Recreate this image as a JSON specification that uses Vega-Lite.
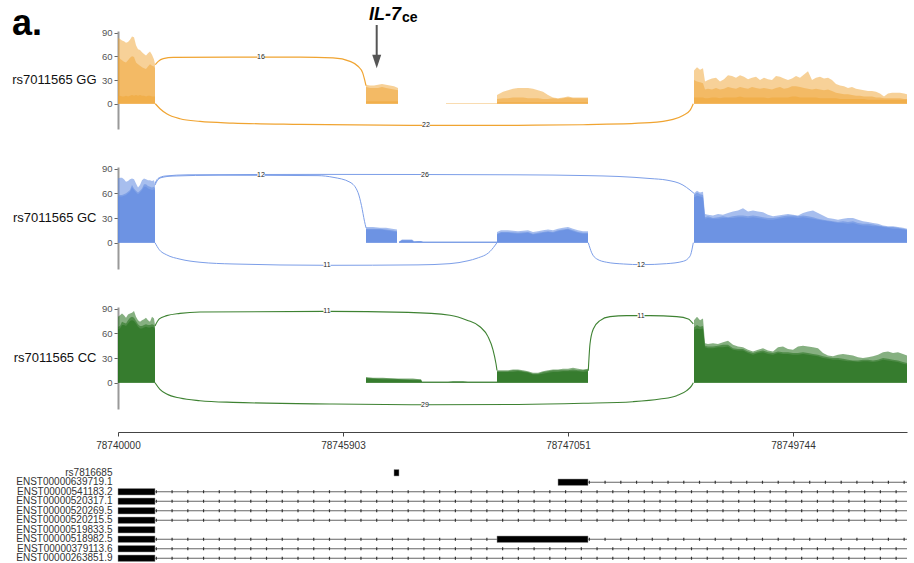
{
 "$schema": "https://vega.github.io/schema/vega-lite/v6.json",
 "padding": {"left": 11, "top": 5, "right": 7, "bottom": 2},
 "config": {"font": "Liberation Sans", "view": {"stroke": null}, "axis": {"grid": false}},
 "datasets": {
  "cov": [
   {"g":"GG","k":1,"x":0,"a":83,"b":60,"c":10},{"g":"GG","k":1,"x":2,"a":82,"b":57,"c":10},{"g":"GG","k":1,"x":4,"a":80,"b":55,"c":9},{"g":"GG","k":1,"x":6,"a":79,"b":53,"c":9},{"g":"GG","k":1,"x":8,"a":77,"b":52,"c":10},{"g":"GG","k":1,"x":10,"a":78,"b":55,"c":9},{"g":"GG","k":1,"x":12,"a":81,"b":58,"c":10},{"g":"GG","k":1,"x":14,"a":85,"b":60,"c":11},{"g":"GG","k":1,"x":16,"a":84,"b":59,"c":10},{"g":"GG","k":1,"x":18,"a":74,"b":52,"c":11},{"g":"GG","k":1,"x":20,"a":69,"b":50,"c":10},{"g":"GG","k":1,"x":22,"a":68,"b":48,"c":11},{"g":"GG","k":1,"x":24,"a":65,"b":46,"c":10},{"g":"GG","k":1,"x":26,"a":63,"b":45,"c":10},{"g":"GG","k":1,"x":28,"a":61,"b":44,"c":9},{"g":"GG","k":1,"x":30,"a":64,"b":47,"c":10},{"g":"GG","k":1,"x":32,"a":66,"b":50,"c":10},{"g":"GG","k":1,"x":34,"a":62,"b":48,"c":9},{"g":"GG","k":1,"x":36,"a":56,"b":47,"c":9},{"g":"GG","k":1,"x":37,"a":50,"b":45,"c":9},
   {"g":"GG","k":2,"x":248,"a":24,"b":21,"c":3},{"g":"GG","k":2,"x":252,"a":23,"b":20,"c":3},{"g":"GG","k":2,"x":256,"a":23,"b":20,"c":3},{"g":"GG","k":2,"x":260,"a":24,"b":20,"c":3},{"g":"GG","k":2,"x":264,"a":25,"b":21,"c":3},{"g":"GG","k":2,"x":268,"a":24,"b":20,"c":3},{"g":"GG","k":2,"x":272,"a":23,"b":19,"c":3},{"g":"GG","k":2,"x":276,"a":22,"b":18,"c":3},{"g":"GG","k":2,"x":280,"a":20,"b":17,"c":3},
   {"g":"GG","k":3,"x":328,"a":1,"b":0,"c":0},{"g":"GG","k":3,"x":379,"a":1,"b":0,"c":0},
   {"g":"GG","k":4,"x":379,"a":11,"b":6,"c":2},{"g":"GG","k":4,"x":385,"a":15,"b":7,"c":2},{"g":"GG","k":4,"x":390,"a":17,"b":7,"c":2},{"g":"GG","k":4,"x":395,"a":19,"b":8,"c":2},{"g":"GG","k":4,"x":400,"a":20,"b":8,"c":2},{"g":"GG","k":4,"x":405,"a":20,"b":8,"c":2},{"g":"GG","k":4,"x":410,"a":20,"b":7,"c":2},{"g":"GG","k":4,"x":415,"a":19,"b":7,"c":2},{"g":"GG","k":4,"x":420,"a":17,"b":7,"c":2},{"g":"GG","k":4,"x":425,"a":15,"b":6,"c":2},{"g":"GG","k":4,"x":430,"a":11,"b":6,"c":2},{"g":"GG","k":4,"x":435,"a":8,"b":7,"c":2},{"g":"GG","k":4,"x":440,"a":7,"b":6,"c":2},{"g":"GG","k":4,"x":445,"a":8,"b":7,"c":2},{"g":"GG","k":4,"x":450,"a":9,"b":8,"c":2},{"g":"GG","k":4,"x":455,"a":8,"b":7,"c":2},{"g":"GG","k":4,"x":460,"a":8,"b":7,"c":2},{"g":"GG","k":4,"x":465,"a":8,"b":7,"c":2},{"g":"GG","k":4,"x":470,"a":8,"b":7,"c":2},
   {"g":"GG","k":5,"x":576,"a":42,"b":30,"c":8},{"g":"GG","k":5,"x":579,"a":46,"b":28,"c":8},{"g":"GG","k":5,"x":582,"a":43,"b":27,"c":8},{"g":"GG","k":5,"x":585,"a":45,"b":26,"c":8},{"g":"GG","k":5,"x":587,"a":28,"b":18,"c":7},{"g":"GG","k":5,"x":590,"a":30,"b":19,"c":7},{"g":"GG","k":5,"x":594,"a":32,"b":18,"c":8},{"g":"GG","k":5,"x":598,"a":33,"b":20,"c":8},{"g":"GG","k":5,"x":602,"a":28,"b":18,"c":7},{"g":"GG","k":5,"x":606,"a":31,"b":19,"c":8},{"g":"GG","k":5,"x":610,"a":36,"b":21,"c":8},{"g":"GG","k":5,"x":614,"a":35,"b":20,"c":8},{"g":"GG","k":5,"x":618,"a":33,"b":19,"c":8},{"g":"GG","k":5,"x":622,"a":36,"b":21,"c":9},{"g":"GG","k":5,"x":626,"a":34,"b":20,"c":8},{"g":"GG","k":5,"x":630,"a":31,"b":19,"c":8},{"g":"GG","k":5,"x":634,"a":33,"b":21,"c":8},{"g":"GG","k":5,"x":638,"a":34,"b":20,"c":8},{"g":"GG","k":5,"x":642,"a":30,"b":19,"c":8},{"g":"GG","k":5,"x":646,"a":33,"b":20,"c":8},{"g":"GG","k":5,"x":650,"a":31,"b":19,"c":7},{"g":"GG","k":5,"x":654,"a":30,"b":18,"c":8},{"g":"GG","k":5,"x":658,"a":35,"b":20,"c":8},{"g":"GG","k":5,"x":662,"a":34,"b":21,"c":8},{"g":"GG","k":5,"x":666,"a":32,"b":19,"c":8},{"g":"GG","k":5,"x":670,"a":30,"b":20,"c":8},{"g":"GG","k":5,"x":674,"a":32,"b":22,"c":9},{"g":"GG","k":5,"x":678,"a":35,"b":22,"c":9},{"g":"GG","k":5,"x":682,"a":33,"b":21,"c":8},{"g":"GG","k":5,"x":686,"a":37,"b":20,"c":8},{"g":"GG","k":5,"x":690,"a":41,"b":19,"c":8},{"g":"GG","k":5,"x":694,"a":30,"b":18,"c":8},{"g":"GG","k":5,"x":698,"a":33,"b":19,"c":8},{"g":"GG","k":5,"x":702,"a":34,"b":18,"c":7},{"g":"GG","k":5,"x":706,"a":32,"b":17,"c":7},{"g":"GG","k":5,"x":710,"a":33,"b":18,"c":7},{"g":"GG","k":5,"x":714,"a":30,"b":16,"c":7},{"g":"GG","k":5,"x":718,"a":25,"b":14,"c":7},{"g":"GG","k":5,"x":722,"a":23,"b":13,"c":6},{"g":"GG","k":5,"x":726,"a":22,"b":12,"c":6},{"g":"GG","k":5,"x":730,"a":20,"b":12,"c":6},{"g":"GG","k":5,"x":734,"a":21,"b":11,"c":6},{"g":"GG","k":5,"x":738,"a":19,"b":10,"c":6},{"g":"GG","k":5,"x":742,"a":18,"b":10,"c":6},{"g":"GG","k":5,"x":746,"a":17,"b":9,"c":6},{"g":"GG","k":5,"x":750,"a":16,"b":9,"c":5},{"g":"GG","k":5,"x":754,"a":16,"b":9,"c":5},{"g":"GG","k":5,"x":758,"a":15,"b":8,"c":5},{"g":"GG","k":5,"x":762,"a":13,"b":8,"c":5},{"g":"GG","k":5,"x":766,"a":9,"b":7,"c":5},{"g":"GG","k":5,"x":770,"a":13,"b":7,"c":5},{"g":"GG","k":5,"x":774,"a":14,"b":7,"c":5},{"g":"GG","k":5,"x":778,"a":14,"b":7,"c":5},{"g":"GG","k":5,"x":782,"a":14,"b":7,"c":5},{"g":"GG","k":5,"x":786,"a":13,"b":6,"c":5},{"g":"GG","k":5,"x":789,"a":12,"b":6,"c":5},

   {"g":"GC","k":1,"x":0,"a":78,"b":57,"c":55},{"g":"GC","k":1,"x":2,"a":79,"b":58,"c":56},{"g":"GC","k":1,"x":4,"a":79,"b":58,"c":56},{"g":"GC","k":1,"x":6,"a":77,"b":59,"c":57},{"g":"GC","k":1,"x":8,"a":74,"b":60,"c":58},{"g":"GC","k":1,"x":10,"a":75,"b":62,"c":60},{"g":"GC","k":1,"x":12,"a":77,"b":64,"c":62},{"g":"GC","k":1,"x":14,"a":78,"b":70,"c":67},{"g":"GC","k":1,"x":16,"a":77,"b":66,"c":64},{"g":"GC","k":1,"x":18,"a":72,"b":63,"c":61},{"g":"GC","k":1,"x":20,"a":67,"b":61,"c":59},{"g":"GC","k":1,"x":22,"a":70,"b":63,"c":61},{"g":"GC","k":1,"x":24,"a":76,"b":66,"c":64},{"g":"GC","k":1,"x":26,"a":78,"b":71,"c":68},{"g":"GC","k":1,"x":28,"a":77,"b":71,"c":68},{"g":"GC","k":1,"x":30,"a":76,"b":69,"c":66},{"g":"GC","k":1,"x":32,"a":76,"b":68,"c":65},{"g":"GC","k":1,"x":34,"a":75,"b":67,"c":64},{"g":"GC","k":1,"x":36,"a":76,"b":68,"c":65},{"g":"GC","k":1,"x":37,"a":70,"b":66,"c":63},
   {"g":"GC","k":2,"x":248,"a":19,"b":17,"c":16},{"g":"GC","k":2,"x":255,"a":19,"b":17,"c":16},{"g":"GC","k":2,"x":262,"a":18,"b":17,"c":16},{"g":"GC","k":2,"x":268,"a":18,"b":16,"c":15},{"g":"GC","k":2,"x":274,"a":17,"b":15,"c":14},{"g":"GC","k":2,"x":279,"a":16,"b":14,"c":13},
   {"g":"GC","k":3,"x":281,"a":1,"b":1,"c":1},{"g":"GC","k":3,"x":284,"a":4,"b":3,"c":3},{"g":"GC","k":3,"x":294,"a":4,"b":3,"c":3},{"g":"GC","k":3,"x":296,"a":2,"b":1,"c":1},{"g":"GC","k":3,"x":300,"a":2,"b":2,"c":1},{"g":"GC","k":3,"x":303,"a":2,"b":2,"c":1},{"g":"GC","k":3,"x":305,"a":1,"b":1,"c":1},{"g":"GC","k":3,"x":379,"a":1,"b":1,"c":1},
   {"g":"GC","k":4,"x":379,"a":13,"b":11,"c":10},{"g":"GC","k":4,"x":383,"a":15,"b":13,"c":12},{"g":"GC","k":4,"x":390,"a":15,"b":13,"c":12},{"g":"GC","k":4,"x":400,"a":14,"b":12,"c":11},{"g":"GC","k":4,"x":410,"a":15,"b":13,"c":12},{"g":"GC","k":4,"x":415,"a":13,"b":11,"c":10},{"g":"GC","k":4,"x":420,"a":14,"b":12,"c":11},{"g":"GC","k":4,"x":425,"a":15,"b":13,"c":12},{"g":"GC","k":4,"x":430,"a":16,"b":14,"c":13},{"g":"GC","k":4,"x":435,"a":15,"b":13,"c":12},{"g":"GC","k":4,"x":440,"a":17,"b":15,"c":14},{"g":"GC","k":4,"x":445,"a":18,"b":16,"c":15},{"g":"GC","k":4,"x":450,"a":19,"b":17,"c":16},{"g":"GC","k":4,"x":455,"a":17,"b":15,"c":14},{"g":"GC","k":4,"x":460,"a":15,"b":13,"c":12},{"g":"GC","k":4,"x":465,"a":14,"b":12,"c":11},{"g":"GC","k":4,"x":470,"a":14,"b":12,"c":11},
   {"g":"GC","k":5,"x":576,"a":60,"b":58,"c":55},{"g":"GC","k":5,"x":579,"a":63,"b":61,"c":57},{"g":"GC","k":5,"x":582,"a":61,"b":59,"c":56},{"g":"GC","k":5,"x":585,"a":62,"b":58,"c":55},{"g":"GC","k":5,"x":587,"a":35,"b":31,"c":29},{"g":"GC","k":5,"x":590,"a":34,"b":32,"c":30},{"g":"GC","k":5,"x":595,"a":33,"b":30,"c":29},{"g":"GC","k":5,"x":600,"a":35,"b":31,"c":29},{"g":"GC","k":5,"x":605,"a":34,"b":32,"c":30},{"g":"GC","k":5,"x":610,"a":36,"b":31,"c":30},{"g":"GC","k":5,"x":615,"a":38,"b":32,"c":30},{"g":"GC","k":5,"x":620,"a":39,"b":33,"c":31},{"g":"GC","k":5,"x":625,"a":42,"b":33,"c":31},{"g":"GC","k":5,"x":630,"a":38,"b":32,"c":30},{"g":"GC","k":5,"x":635,"a":39,"b":33,"c":31},{"g":"GC","k":5,"x":640,"a":38,"b":32,"c":30},{"g":"GC","k":5,"x":645,"a":37,"b":31,"c":29},{"g":"GC","k":5,"x":650,"a":34,"b":30,"c":28},{"g":"GC","k":5,"x":655,"a":32,"b":30,"c":28},{"g":"GC","k":5,"x":660,"a":33,"b":31,"c":29},{"g":"GC","k":5,"x":665,"a":34,"b":32,"c":30},{"g":"GC","k":5,"x":670,"a":35,"b":33,"c":31},{"g":"GC","k":5,"x":675,"a":34,"b":33,"c":31},{"g":"GC","k":5,"x":680,"a":33,"b":32,"c":30},{"g":"GC","k":5,"x":685,"a":36,"b":33,"c":31},{"g":"GC","k":5,"x":690,"a":38,"b":32,"c":30},{"g":"GC","k":5,"x":695,"a":39,"b":31,"c":29},{"g":"GC","k":5,"x":700,"a":36,"b":29,"c":28},{"g":"GC","k":5,"x":705,"a":33,"b":28,"c":27},{"g":"GC","k":5,"x":710,"a":30,"b":27,"c":26},{"g":"GC","k":5,"x":715,"a":29,"b":26,"c":25},{"g":"GC","k":5,"x":720,"a":28,"b":25,"c":24},{"g":"GC","k":5,"x":725,"a":29,"b":26,"c":24},{"g":"GC","k":5,"x":730,"a":30,"b":25,"c":23},{"g":"GC","k":5,"x":735,"a":30,"b":26,"c":24},{"g":"GC","k":5,"x":740,"a":28,"b":24,"c":22},{"g":"GC","k":5,"x":745,"a":26,"b":23,"c":21},{"g":"GC","k":5,"x":750,"a":25,"b":23,"c":21},{"g":"GC","k":5,"x":755,"a":24,"b":22,"c":20},{"g":"GC","k":5,"x":760,"a":23,"b":21,"c":20},{"g":"GC","k":5,"x":765,"a":21,"b":20,"c":19},{"g":"GC","k":5,"x":770,"a":20,"b":19,"c":18},{"g":"GC","k":5,"x":775,"a":20,"b":19,"c":17},{"g":"GC","k":5,"x":780,"a":19,"b":18,"c":17},{"g":"GC","k":5,"x":785,"a":18,"b":17,"c":16},{"g":"GC","k":5,"x":789,"a":17,"b":16,"c":15},

   {"g":"CC","k":1,"x":0,"a":80,"b":68,"c":65},{"g":"CC","k":1,"x":2,"a":82,"b":69,"c":66},{"g":"CC","k":1,"x":4,"a":84,"b":74,"c":70},{"g":"CC","k":1,"x":6,"a":82,"b":73,"c":70},{"g":"CC","k":1,"x":8,"a":79,"b":72,"c":69},{"g":"CC","k":1,"x":10,"a":83,"b":76,"c":72},{"g":"CC","k":1,"x":12,"a":84,"b":79,"c":75},{"g":"CC","k":1,"x":14,"a":85,"b":80,"c":76},{"g":"CC","k":1,"x":16,"a":87,"b":79,"c":75},{"g":"CC","k":1,"x":18,"a":80,"b":75,"c":72},{"g":"CC","k":1,"x":20,"a":76,"b":71,"c":68},{"g":"CC","k":1,"x":22,"a":74,"b":69,"c":66},{"g":"CC","k":1,"x":24,"a":76,"b":69,"c":66},{"g":"CC","k":1,"x":26,"a":77,"b":70,"c":67},{"g":"CC","k":1,"x":28,"a":79,"b":71,"c":68},{"g":"CC","k":1,"x":30,"a":76,"b":70,"c":67},{"g":"CC","k":1,"x":32,"a":74,"b":70,"c":67},{"g":"CC","k":1,"x":34,"a":80,"b":71,"c":68},{"g":"CC","k":1,"x":36,"a":78,"b":70,"c":67},{"g":"CC","k":1,"x":37,"a":70,"b":66,"c":64},
   {"g":"CC","k":2,"x":248,"a":7,"b":6,"c":5},{"g":"CC","k":2,"x":255,"a":6,"b":5,"c":5},{"g":"CC","k":2,"x":265,"a":6,"b":5,"c":4},{"g":"CC","k":2,"x":275,"a":5,"b":5,"c":4},{"g":"CC","k":2,"x":285,"a":5,"b":4,"c":4},{"g":"CC","k":2,"x":295,"a":5,"b":4,"c":3},{"g":"CC","k":2,"x":303,"a":4,"b":4,"c":3},{"g":"CC","k":2,"x":304,"a":1,"b":1,"c":1},{"g":"CC","k":2,"x":330,"a":1,"b":1,"c":1},{"g":"CC","k":2,"x":335,"a":2,"b":1,"c":1},{"g":"CC","k":2,"x":345,"a":2,"b":1,"c":1},{"g":"CC","k":2,"x":350,"a":1,"b":1,"c":1},{"g":"CC","k":2,"x":379,"a":1,"b":1,"c":1},
   {"g":"CC","k":4,"x":379,"a":15,"b":14,"c":13},{"g":"CC","k":4,"x":385,"a":15,"b":14,"c":13},{"g":"CC","k":4,"x":390,"a":15,"b":14,"c":13},{"g":"CC","k":4,"x":395,"a":16,"b":15,"c":13},{"g":"CC","k":4,"x":400,"a":16,"b":15,"c":14},{"g":"CC","k":4,"x":405,"a":15,"b":14,"c":13},{"g":"CC","k":4,"x":410,"a":14,"b":13,"c":12},{"g":"CC","k":4,"x":415,"a":12,"b":11,"c":10},{"g":"CC","k":4,"x":420,"a":12,"b":11,"c":10},{"g":"CC","k":4,"x":425,"a":14,"b":13,"c":11},{"g":"CC","k":4,"x":430,"a":15,"b":14,"c":12},{"g":"CC","k":4,"x":435,"a":16,"b":15,"c":13},{"g":"CC","k":4,"x":440,"a":16,"b":15,"c":13},{"g":"CC","k":4,"x":445,"a":17,"b":15,"c":14},{"g":"CC","k":4,"x":450,"a":17,"b":15,"c":14},{"g":"CC","k":4,"x":455,"a":18,"b":16,"c":14},{"g":"CC","k":4,"x":460,"a":17,"b":15,"c":14},{"g":"CC","k":4,"x":465,"a":16,"b":15,"c":13},{"g":"CC","k":4,"x":470,"a":17,"b":16,"c":14},
   {"g":"CC","k":5,"x":576,"a":76,"b":67,"c":64},{"g":"CC","k":5,"x":579,"a":80,"b":70,"c":66},{"g":"CC","k":5,"x":582,"a":76,"b":68,"c":65},{"g":"CC","k":5,"x":585,"a":78,"b":69,"c":66},{"g":"CC","k":5,"x":587,"a":48,"b":45,"c":43},{"g":"CC","k":5,"x":590,"a":47,"b":44,"c":42},{"g":"CC","k":5,"x":595,"a":48,"b":44,"c":42},{"g":"CC","k":5,"x":600,"a":47,"b":45,"c":43},{"g":"CC","k":5,"x":605,"a":49,"b":46,"c":43},{"g":"CC","k":5,"x":610,"a":51,"b":46,"c":44},{"g":"CC","k":5,"x":615,"a":46,"b":42,"c":40},{"g":"CC","k":5,"x":620,"a":44,"b":41,"c":39},{"g":"CC","k":5,"x":625,"a":43,"b":41,"c":39},{"g":"CC","k":5,"x":630,"a":40,"b":38,"c":36},{"g":"CC","k":5,"x":635,"a":38,"b":36,"c":34},{"g":"CC","k":5,"x":640,"a":40,"b":38,"c":36},{"g":"CC","k":5,"x":645,"a":42,"b":39,"c":37},{"g":"CC","k":5,"x":650,"a":39,"b":37,"c":35},{"g":"CC","k":5,"x":655,"a":38,"b":36,"c":34},{"g":"CC","k":5,"x":660,"a":43,"b":38,"c":36},{"g":"CC","k":5,"x":665,"a":44,"b":37,"c":35},{"g":"CC","k":5,"x":670,"a":41,"b":37,"c":35},{"g":"CC","k":5,"x":675,"a":40,"b":36,"c":34},{"g":"CC","k":5,"x":680,"a":44,"b":36,"c":34},{"g":"CC","k":5,"x":685,"a":45,"b":37,"c":35},{"g":"CC","k":5,"x":690,"a":44,"b":36,"c":34},{"g":"CC","k":5,"x":695,"a":43,"b":35,"c":33},{"g":"CC","k":5,"x":700,"a":42,"b":34,"c":32},{"g":"CC","k":5,"x":705,"a":36,"b":32,"c":30},{"g":"CC","k":5,"x":710,"a":33,"b":31,"c":29},{"g":"CC","k":5,"x":715,"a":32,"b":30,"c":28},{"g":"CC","k":5,"x":720,"a":34,"b":30,"c":28},{"g":"CC","k":5,"x":725,"a":35,"b":29,"c":27},{"g":"CC","k":5,"x":730,"a":34,"b":28,"c":26},{"g":"CC","k":5,"x":735,"a":33,"b":27,"c":26},{"g":"CC","k":5,"x":740,"a":31,"b":27,"c":25},{"g":"CC","k":5,"x":745,"a":30,"b":28,"c":26},{"g":"CC","k":5,"x":750,"a":31,"b":28,"c":26},{"g":"CC","k":5,"x":755,"a":32,"b":27,"c":25},{"g":"CC","k":5,"x":760,"a":34,"b":28,"c":26},{"g":"CC","k":5,"x":765,"a":37,"b":30,"c":28},{"g":"CC","k":5,"x":770,"a":38,"b":29,"c":27},{"g":"CC","k":5,"x":775,"a":36,"b":28,"c":26},{"g":"CC","k":5,"x":780,"a":37,"b":27,"c":25},{"g":"CC","k":5,"x":785,"a":35,"b":25,"c":23},{"g":"CC","k":5,"x":789,"a":33,"b":24,"c":22}
  ],
  "arcs": [
   {"g":"GG","j":"a","x":37.3,"y":49.5},{"g":"GG","j":"a","x":40.3,"y":53.6},{"g":"GG","j":"a","x":45.3,"y":57},{"g":"GG","j":"a","x":55.3,"y":58.7},{"g":"GG","j":"a","x":115,"y":59},{"g":"GG","j":"a","x":182,"y":59},{"g":"GG","j":"a","x":215,"y":57.9},{"g":"GG","j":"a","x":232,"y":53.6},{"g":"GG","j":"a","x":240,"y":47.4},{"g":"GG","j":"a","x":244.7,"y":39},{"g":"GG","j":"a","x":247,"y":28.3},{"g":"GG","j":"a","x":248,"y":23},
   {"g":"GG","j":"b","x":37.3,"y":0},{"g":"GG","j":"b","x":42,"y":-6.3},{"g":"GG","j":"b","x":48.7,"y":-12.7},{"g":"GG","j":"b","x":62,"y":-19},{"g":"GG","j":"b","x":82,"y":-22.4},{"g":"GG","j":"b","x":115,"y":-24.5},{"g":"GG","j":"b","x":182,"y":-26.2},{"g":"GG","j":"b","x":307,"y":-27.5},{"g":"GG","j":"b","x":400,"y":-27.3},{"g":"GG","j":"b","x":465,"y":-26.6},{"g":"GG","j":"b","x":532,"y":-24},{"g":"GG","j":"b","x":555,"y":-19.9},{"g":"GG","j":"b","x":565,"y":-14.8},{"g":"GG","j":"b","x":572,"y":-8.5},{"g":"GG","j":"b","x":575.3,"y":0},
   {"g":"GC","j":"a","x":37,"y":70},{"g":"GC","j":"a","x":39,"y":75},{"g":"GC","j":"a","x":43,"y":79},{"g":"GC","j":"a","x":55,"y":81},{"g":"GC","j":"a","x":100,"y":82},{"g":"GC","j":"a","x":200,"y":81.5},{"g":"GC","j":"a","x":215,"y":79.5},{"g":"GC","j":"a","x":232,"y":73.5},{"g":"GC","j":"a","x":240,"y":61},{"g":"GC","j":"a","x":243.5,"y":45},{"g":"GC","j":"a","x":246.5,"y":26},{"g":"GC","j":"a","x":248,"y":18},
   {"g":"GC","j":"b","x":37,"y":72},{"g":"GC","j":"b","x":40,"y":78},{"g":"GC","j":"b","x":47,"y":81},{"g":"GC","j":"b","x":70,"y":82.5},{"g":"GC","j":"b","x":200,"y":83},{"g":"GC","j":"b","x":400,"y":82.5},{"g":"GC","j":"b","x":470,"y":81.5},{"g":"GC","j":"b","x":500,"y":80.5},{"g":"GC","j":"b","x":532,"y":78},{"g":"GC","j":"b","x":549,"y":76},{"g":"GC","j":"b","x":565,"y":70},{"g":"GC","j":"b","x":572,"y":64},{"g":"GC","j":"b","x":576,"y":60},
   {"g":"GC","j":"c","x":37,"y":0},{"g":"GC","j":"c","x":41.3,"y":-8.6},{"g":"GC","j":"c","x":48.7,"y":-14.8},{"g":"GC","j":"c","x":62,"y":-20},{"g":"GC","j":"c","x":82,"y":-23.8},{"g":"GC","j":"c","x":115,"y":-25.9},{"g":"GC","j":"c","x":209,"y":-27.5},{"g":"GC","j":"c","x":300,"y":-27},{"g":"GC","j":"c","x":332,"y":-25.5},{"g":"GC","j":"c","x":350,"y":-22},{"g":"GC","j":"c","x":359,"y":-18.9},{"g":"GC","j":"c","x":372,"y":-10.7},{"g":"GC","j":"c","x":379,"y":0},
   {"g":"GC","j":"d","x":470.3,"y":0},{"g":"GC","j":"d","x":473.7,"y":-12.3},{"g":"GC","j":"d","x":478.7,"y":-19.7},{"g":"GC","j":"d","x":488.7,"y":-23.8},{"g":"GC","j":"d","x":505.3,"y":-25.9},{"g":"GC","j":"d","x":523.7,"y":-26.7},{"g":"GC","j":"d","x":548.7,"y":-25.5},{"g":"GC","j":"d","x":565.3,"y":-22.6},{"g":"GC","j":"d","x":572,"y":-16.4},{"g":"GC","j":"d","x":575.3,"y":0},
   {"g":"CC","j":"a","x":37,"y":69},{"g":"CC","j":"a","x":41.3,"y":77.5},{"g":"CC","j":"a","x":48.7,"y":81.5},{"g":"CC","j":"a","x":62,"y":84.3},{"g":"CC","j":"a","x":82,"y":86},{"g":"CC","j":"a","x":209,"y":86.7},{"g":"CC","j":"a","x":290,"y":85.5},{"g":"CC","j":"a","x":332,"y":82},{"g":"CC","j":"a","x":349,"y":76},{"g":"CC","j":"a","x":362,"y":68},{"g":"CC","j":"a","x":370,"y":56},{"g":"CC","j":"a","x":375,"y":40},{"g":"CC","j":"a","x":378,"y":23},{"g":"CC","j":"a","x":379,"y":15},
   {"g":"CC","j":"b","x":470.3,"y":14.6},{"g":"CC","j":"b","x":472,"y":47},{"g":"CC","j":"b","x":475.3,"y":65.3},{"g":"CC","j":"b","x":482,"y":75.5},{"g":"CC","j":"b","x":492,"y":80.3},{"g":"CC","j":"b","x":508.7,"y":81.5},{"g":"CC","j":"b","x":532,"y":81.5},{"g":"CC","j":"b","x":558.7,"y":80.3},{"g":"CC","j":"b","x":570.3,"y":77.5},{"g":"CC","j":"b","x":575.3,"y":71.4},
   {"g":"CC","j":"c","x":37,"y":0},{"g":"CC","j":"c","x":41.7,"y":-7.7},{"g":"CC","j":"c","x":48.7,"y":-13.8},{"g":"CC","j":"c","x":62,"y":-18.7},{"g":"CC","j":"c","x":82,"y":-21.9},{"g":"CC","j":"c","x":115,"y":-23.9},{"g":"CC","j":"c","x":215,"y":-26},{"g":"CC","j":"c","x":307,"y":-26.8},{"g":"CC","j":"c","x":400,"y":-26.5},{"g":"CC","j":"c","x":465,"y":-25.1},{"g":"CC","j":"c","x":515,"y":-23.1},{"g":"CC","j":"c","x":542,"y":-19.9},{"g":"CC","j":"c","x":558.7,"y":-15.8},{"g":"CC","j":"c","x":568.7,"y":-9.7},{"g":"CC","j":"c","x":573.7,"y":-3.6},{"g":"CC","j":"c","x":575.3,"y":0}
  ],
  "lbl": [
   {"g":"GG","x":143,"y":58.8,"t":"16"},{"g":"GG","x":308,"y":-27.5,"t":"22"},
   {"g":"GC","x":143,"y":82,"t":"12"},{"g":"GC","x":307,"y":82.8,"t":"26"},{"g":"GC","x":209,"y":-27.5,"t":"11"},{"g":"GC","x":523,"y":-26.7,"t":"12"},
   {"g":"CC","x":209,"y":86.7,"t":"11"},{"g":"CC","x":523,"y":81.5,"t":"11"},{"g":"CC","x":307,"y":-26.8,"t":"29"}
  ],
  "ann": [
   {"t":"a.","x":-106,"y":87,"kind":"a"},
   {"t":"IL-7","x":251,"y":106.5,"kind":"il"},
   {"t":"ce","x":284,"y":103.7,"kind":"ce"}
  ],
  "arrow": [{"x":258.7,"y":99.6,"y2":59,"yh":53.5}],
  "tx": [
   {"t":"rs7816685","kind":"e","x0":276,"x1":281},
   {"t":"ENST00000639719.1","kind":"e","x0":440,"x1":470},{"t":"ENST00000639719.1","kind":"i","x0":470,"x1":789},
   {"t":"ENST00000541183.2","kind":"i","x0":37,"x1":789},{"t":"ENST00000541183.2","kind":"e","x0":0,"x1":37},
   {"t":"ENST00000520317.1","kind":"i","x0":37,"x1":789},{"t":"ENST00000520317.1","kind":"e","x0":0,"x1":37},
   {"t":"ENST00000520269.5","kind":"i","x0":37,"x1":789},{"t":"ENST00000520269.5","kind":"e","x0":0,"x1":37},
   {"t":"ENST00000520215.5","kind":"i","x0":37,"x1":789},{"t":"ENST00000520215.5","kind":"e","x0":0,"x1":37},
   {"t":"ENST00000519833.5","kind":"e","x0":0,"x1":37},
   {"t":"ENST00000518982.5","kind":"i","x0":37,"x1":379},{"t":"ENST00000518982.5","kind":"i","x0":470,"x1":789},{"t":"ENST00000518982.5","kind":"e","x0":0,"x1":37},{"t":"ENST00000518982.5","kind":"e","x0":379,"x1":470},
   {"t":"ENST00000379113.6","kind":"i","x0":37,"x1":789},{"t":"ENST00000379113.6","kind":"e","x0":0,"x1":37},
   {"t":"ENST00000263851.9","kind":"i","x0":37,"x1":789},{"t":"ENST00000263851.9","kind":"e","x0":0,"x1":37}
  ]
 },
 "spacing": 17,
 "vconcat": [
  {
   "spacing": 34,
   "vconcat": [
    {
     "width": 789, "height": 98,
     "layer": [
      {"data": {"name": "cov"}, "transform": [{"filter": "datum.g === 'GG'"}, {"fold": ["a", "b", "c"], "as": ["s", "v"]}],
       "mark": {"type": "area", "color": "#F0A431", "opacity": 0.5},
       "encoding": {
        "x": {"field": "x", "type": "quantitative", "scale": {"domain": [0, 789], "nice": false, "zero": false}, "axis": null},
        "y": {"field": "v", "type": "quantitative", "stack": null, "scale": {"domain": [-32, 92], "nice": false, "zero": false},
              "axis": {"values": [0, 30, 60, 90], "tickCount": 20, "labelOverlap": false, "title": "rs7011565 GG", "titleAngle": 0, "titleAlign": "right", "titleBaseline": "middle", "titleX": -22, "titleY": 48, "titleFontSize": 13, "titleFontWeight": "normal", "titleColor": "#111", "labelFontSize": 9.5, "labelColor": "#555", "labelPadding": 2, "labelFlush": false, "tickSize": 4, "tickColor": "#666", "domainColor": "#999", "domainWidth": 2}},
        "detail": [{"field": "s"}, {"field": "k"}]}},
      {"data": {"name": "arcs"}, "transform": [{"filter": "datum.g === 'GG'"}],
       "mark": {"type": "line", "interpolate": "monotone", "color": "#F0A431", "strokeWidth": 1.2},
       "encoding": {"x": {"field": "x", "type": "quantitative"}, "y": {"field": "y", "type": "quantitative"}, "detail": {"field": "j"}}},
      {"data": {"name": "lbl"}, "transform": [{"filter": "datum.g === 'GG'"}],
       "mark": {"type": "point", "shape": "square", "filled": true, "color": "white", "opacity": 1, "size": 50},
       "encoding": {"x": {"field": "x", "type": "quantitative"}, "y": {"field": "y", "type": "quantitative"}}},
      {"data": {"name": "lbl"}, "transform": [{"filter": "datum.g === 'GG'"}],
       "mark": {"type": "text", "fontSize": 7, "color": "#222"},
       "encoding": {"x": {"field": "x", "type": "quantitative"}, "y": {"field": "y", "type": "quantitative"}, "text": {"field": "t"}}},
      {"data": {"name": "ann"}, "transform": [{"filter": "datum.kind === 'a'"}],
       "mark": {"type": "text", "fontSize": 36, "fontWeight": "bold", "align": "left", "baseline": "alphabetic", "color": "#000"},
       "encoding": {"x": {"field": "x", "type": "quantitative"}, "y": {"field": "y", "type": "quantitative"}, "text": {"field": "t"}}},
      {"data": {"name": "ann"}, "transform": [{"filter": "datum.kind === 'il'"}],
       "mark": {"type": "text", "fontSize": 18, "fontWeight": "bold", "fontStyle": "italic", "align": "left", "baseline": "alphabetic", "color": "#000"},
       "encoding": {"x": {"field": "x", "type": "quantitative"}, "y": {"field": "y", "type": "quantitative"}, "text": {"field": "t"}}},
      {"data": {"name": "ann"}, "transform": [{"filter": "datum.kind === 'ce'"}],
       "mark": {"type": "text", "fontSize": 14, "fontWeight": "bold", "align": "left", "baseline": "alphabetic", "color": "#000"},
       "encoding": {"x": {"field": "x", "type": "quantitative"}, "y": {"field": "y", "type": "quantitative"}, "text": {"field": "t"}}},
      {"data": {"name": "arrow"},
       "mark": {"type": "rule", "color": "#555", "strokeWidth": 2},
       "encoding": {"x": {"field": "x", "type": "quantitative"}, "y": {"field": "y", "type": "quantitative"}, "y2": {"field": "y2"}}},
      {"data": {"name": "arrow"},
       "mark": {"type": "point", "shape": "M-1,-1.5L1,-1.5L0,1.5Z", "filled": true, "color": "#555", "opacity": 1, "size": 81},
       "encoding": {"x": {"field": "x", "type": "quantitative"}, "y": {"field": "yh", "type": "quantitative"}}}
     ]
    },
    {
     "width": 789, "height": 102,
     "layer": [
      {"data": {"name": "cov"}, "transform": [{"filter": "datum.g === 'GC'"}, {"fold": ["a", "b", "c"], "as": ["s", "v"]}],
       "mark": {"type": "area", "color": "#5F88E0", "opacity": 0.55},
       "encoding": {
        "x": {"field": "x", "type": "quantitative", "scale": {"domain": [0, 789], "nice": false, "zero": false}, "axis": null},
        "y": {"field": "v", "type": "quantitative", "stack": null, "scale": {"domain": [-32, 92], "nice": false, "zero": false},
              "axis": {"values": [0, 30, 60, 90], "tickCount": 20, "labelOverlap": false, "title": "rs7011565 GC", "titleAngle": 0, "titleAlign": "right", "titleBaseline": "middle", "titleX": -22, "titleY": 50, "titleFontSize": 13, "titleFontWeight": "normal", "titleColor": "#111", "labelFontSize": 9.5, "labelColor": "#555", "labelPadding": 2, "labelFlush": false, "tickSize": 4, "tickColor": "#666", "domainColor": "#999", "domainWidth": 2}},
        "detail": [{"field": "s"}, {"field": "k"}]}},
      {"data": {"name": "arcs"}, "transform": [{"filter": "datum.g === 'GC'"}],
       "mark": {"type": "line", "interpolate": "monotone", "color": "#7C9EE8", "strokeWidth": 1},
       "encoding": {"x": {"field": "x", "type": "quantitative"}, "y": {"field": "y", "type": "quantitative"}, "detail": {"field": "j"}}},
      {"data": {"name": "lbl"}, "transform": [{"filter": "datum.g === 'GC'"}],
       "mark": {"type": "point", "shape": "square", "filled": true, "color": "white", "opacity": 1, "size": 50},
       "encoding": {"x": {"field": "x", "type": "quantitative"}, "y": {"field": "y", "type": "quantitative"}}},
      {"data": {"name": "lbl"}, "transform": [{"filter": "datum.g === 'GC'"}],
       "mark": {"type": "text", "fontSize": 7, "color": "#222"},
       "encoding": {"x": {"field": "x", "type": "quantitative"}, "y": {"field": "y", "type": "quantitative"}, "text": {"field": "t"}}}
     ]
    },
    {
     "width": 789, "height": 102,
     "layer": [
      {"data": {"name": "cov"}, "transform": [{"filter": "datum.g === 'CC'"}, {"fold": ["a", "b", "c"], "as": ["s", "v"]}],
       "mark": {"type": "area", "color": "#22701A", "opacity": 0.55},
       "encoding": {
        "x": {"field": "x", "type": "quantitative", "scale": {"domain": [0, 789], "nice": false, "zero": false},
              "axis": {"values": [0, 225, 450, 675], "tickCount": 20, "labelExpr": "datum.value == 0 ? '78740000' : datum.value == 225 ? '78745903' : datum.value == 450 ? '78747051' : '78749744'", "title": null, "offset": 23, "labelFlush": false, "labelOverlap": false, "labelFontSize": 10, "labelColor": "#333", "labelPadding": 4, "tickSize": 4, "tickColor": "#444", "domainColor": "#444", "domainWidth": 1.2}},
        "y": {"field": "v", "type": "quantitative", "stack": null, "scale": {"domain": [-32, 92], "nice": false, "zero": false},
              "axis": {"values": [0, 30, 60, 90], "tickCount": 20, "labelOverlap": false, "title": "rs7011565 CC", "titleAngle": 0, "titleAlign": "right", "titleBaseline": "middle", "titleX": -22, "titleY": 50, "titleFontSize": 13, "titleFontWeight": "normal", "titleColor": "#111", "labelFontSize": 9.5, "labelColor": "#555", "labelPadding": 2, "labelFlush": false, "tickSize": 4, "tickColor": "#666", "domainColor": "#999", "domainWidth": 2}},
        "detail": [{"field": "s"}, {"field": "k"}]}},
      {"data": {"name": "arcs"}, "transform": [{"filter": "datum.g === 'CC'"}],
       "mark": {"type": "line", "interpolate": "monotone", "color": "#3E8232", "strokeWidth": 1.1},
       "encoding": {"x": {"field": "x", "type": "quantitative"}, "y": {"field": "y", "type": "quantitative"}, "detail": {"field": "j"}}},
      {"data": {"name": "lbl"}, "transform": [{"filter": "datum.g === 'CC'"}],
       "mark": {"type": "point", "shape": "square", "filled": true, "color": "white", "opacity": 1, "size": 50},
       "encoding": {"x": {"field": "x", "type": "quantitative"}, "y": {"field": "y", "type": "quantitative"}}},
      {"data": {"name": "lbl"}, "transform": [{"filter": "datum.g === 'CC'"}],
       "mark": {"type": "text", "fontSize": 7, "color": "#222"},
       "encoding": {"x": {"field": "x", "type": "quantitative"}, "y": {"field": "y", "type": "quantitative"}, "text": {"field": "t"}}}
     ]
    }
   ]
  },
  {
   "width": 789, "height": 95,
   "data": {"name": "tx"},
   "layer": [
    {"transform": [{"filter": "datum.kind === 'i'"}],
     "mark": {"type": "rule", "color": "#666", "strokeWidth": 1},
     "encoding": {
      "x": {"field": "x0", "type": "quantitative", "scale": {"domain": [0, 789], "nice": false, "zero": false}, "axis": null},
      "x2": {"field": "x1"},
      "y": {"field": "t", "type": "nominal", "sort": ["rs7816685", "ENST00000639719.1", "ENST00000541183.2", "ENST00000520317.1", "ENST00000520269.5", "ENST00000520215.5", "ENST00000519833.5", "ENST00000518982.5", "ENST00000379113.6", "ENST00000263851.9"],
            "scale": {"paddingInner": 0, "paddingOuter": 0},
            "axis": {"title": null, "domain": false, "ticks": false, "labelFontSize": 10, "labelColor": "#333", "labelPadding": 6}}}},
    {"transform": [{"filter": "datum.kind === 'i'"}],
     "mark": {"type": "rule", "color": "#333", "strokeWidth": 3, "strokeDash": [1.2, 14.54], "strokeDashOffset": 15},
     "encoding": {
      "x": {"field": "x0", "type": "quantitative"}, "x2": {"field": "x1"},
      "y": {"field": "t", "type": "nominal", "sort": ["rs7816685", "ENST00000639719.1", "ENST00000541183.2", "ENST00000520317.1", "ENST00000520269.5", "ENST00000520215.5", "ENST00000519833.5", "ENST00000518982.5", "ENST00000379113.6", "ENST00000263851.9"]}}},
    {"transform": [{"filter": "datum.kind === 'e'"}],
     "mark": {"type": "bar", "color": "#000", "height": {"band": 0.68}, "stroke": "#999", "strokeWidth": 0.5},
     "encoding": {
      "x": {"field": "x0", "type": "quantitative"}, "x2": {"field": "x1"},
      "y": {"field": "t", "type": "nominal", "sort": ["rs7816685", "ENST00000639719.1", "ENST00000541183.2", "ENST00000520317.1", "ENST00000520269.5", "ENST00000520215.5", "ENST00000519833.5", "ENST00000518982.5", "ENST00000379113.6", "ENST00000263851.9"]}}}
   ]
  }
 ]
}
